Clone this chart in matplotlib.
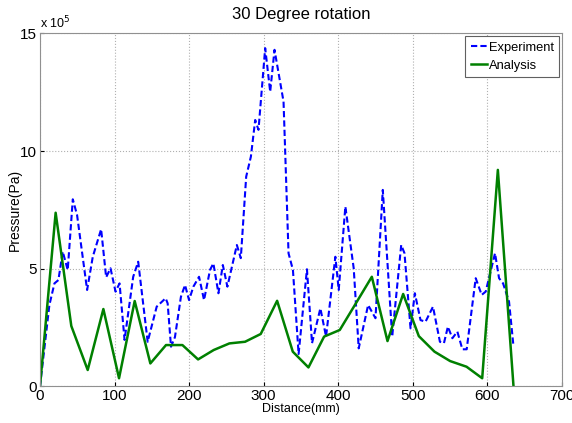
import matplotlib
matplotlib.use("Agg")
import matplotlib.pyplot as plt
import matplotlib.ticker as ticker

plt.rcParams["font.family"] = ["Liberation Sans", "DejaVu Sans"]

# pressure values in units of 1e5 Pa
exp_x = [0, 12.6, 19.4, 24.7, 30.5, 37.2, 44, 49.7, 63.2, 70.8, 82, 88.7, 94.6,
         101.3, 106.7, 113.4, 125, 131.7, 144.4, 156.5, 168.5, 171.2, 175.7, 181,
         189, 194.5, 199.9, 205.7, 213.3, 220, 228, 232.5, 239.3, 245.2, 251.3,
         264, 269.3, 276.5, 282.8, 288.6, 293, 302, 308.7, 314.5, 326.6, 333.3,
         339.2, 346.8, 358, 364.8, 376, 383.6, 396.1, 400.6, 409.5, 420.7, 427.4,
         440, 449.9, 459.7, 472.3, 484.4, 488.8, 496.9, 502.7, 510.3, 517, 527,
         536.3, 541.7, 547, 553, 559.7, 566.4, 572.2, 584.3, 592.3, 597.7, 610.2,
         615.6, 621, 629, 635]
exp_y = [0, 3.46, 4.38, 4.52, 5.73, 4.95, 7.95, 7.29, 4.10, 5.51, 6.68, 4.64, 5.02,
         4.03, 4.38, 1.98, 4.66, 5.30, 1.90, 3.39, 3.75, 3.53, 1.69, 2.10,
         3.81, 4.31, 3.67, 4.24, 4.66, 3.67, 4.95, 5.23, 3.96, 5.16, 4.24,
         6.01, 5.45, 8.91, 9.76, 11.32, 10.90, 14.37, 12.52, 14.30, 12.10, 5.66,
         4.95, 1.38, 4.98, 1.84, 3.32, 2.12, 5.51, 4.10, 7.64, 5.02, 1.62,
         3.46, 2.90, 8.35, 2.12, 6.01, 5.66, 2.47, 3.96, 2.82, 2.75, 3.39,
         1.90, 1.84, 2.54, 2.05, 2.33, 1.58, 1.58, 4.60, 3.89, 4.03, 5.66,
         4.60, 4.38, 3.60, 1.69]

ana_x = [0, 21, 42, 64, 85, 106, 127, 148, 169, 191, 212, 233, 254, 275, 296, 318,
         339, 360, 381, 402, 423, 445, 466, 487, 508, 529, 550, 572, 593, 614, 635]
ana_y = [0, 7.38, 2.57, 0.70, 3.29, 0.35, 3.63, 0.98, 1.76, 1.76, 1.15, 1.55, 1.83,
         1.90, 2.23, 3.64, 1.48, 0.81, 2.12, 2.40, 3.50, 4.66, 1.93, 3.93, 2.14,
         1.48, 1.08, 0.84, 0.35, 9.20, 0.0]

fig = plt.figure(figsize=(5.72, 4.23), dpi=100)
ax = fig.add_axes([0.0699, 0.0863, 0.9126, 0.8349])

ax.plot(exp_x, exp_y, color="#0000ff", linestyle="--", linewidth=1.5,
        dashes=(3, 1.5), label="Experiment")
ax.plot(ana_x, ana_y, color="#008000", linewidth=1.8, label="Analysis")

ax.set_xlim(0, 700)
ax.set_ylim(0, 15)
ax.xaxis.set_major_locator(ticker.MultipleLocator(100))
ax.yaxis.set_major_locator(ticker.MultipleLocator(5))
ax.grid(True, color="#b0b0b0", linestyle=":", linewidth=0.8)
ax.tick_params(direction="in", labelsize=11, length=3, colors="black", pad=2)
for sp in ax.spines.values():
    sp.set_color("#909090")

ax.set_title("30 Degree rotation", fontsize=12, pad=10)
ax.set_xlabel("Distance(mm)", fontsize=9, labelpad=0)
ax.set_ylabel("Pressure(Pa)", fontsize=10, labelpad=-1)
ax.text(0.0, 1.005, r"x 10$^5$", transform=ax.transAxes, fontsize=9,
        ha="left", va="bottom")

leg = ax.legend(loc="upper right", fontsize=9.3, handlelength=1.3,
                handletextpad=0.1, borderpad=0.45, labelspacing=0.45,
                fancybox=False, framealpha=1, borderaxespad=0.2)
leg.get_frame().set_edgecolor("#606060")
leg.get_frame().set_linewidth(0.8)

fig.savefig("out.png", dpi=100)
